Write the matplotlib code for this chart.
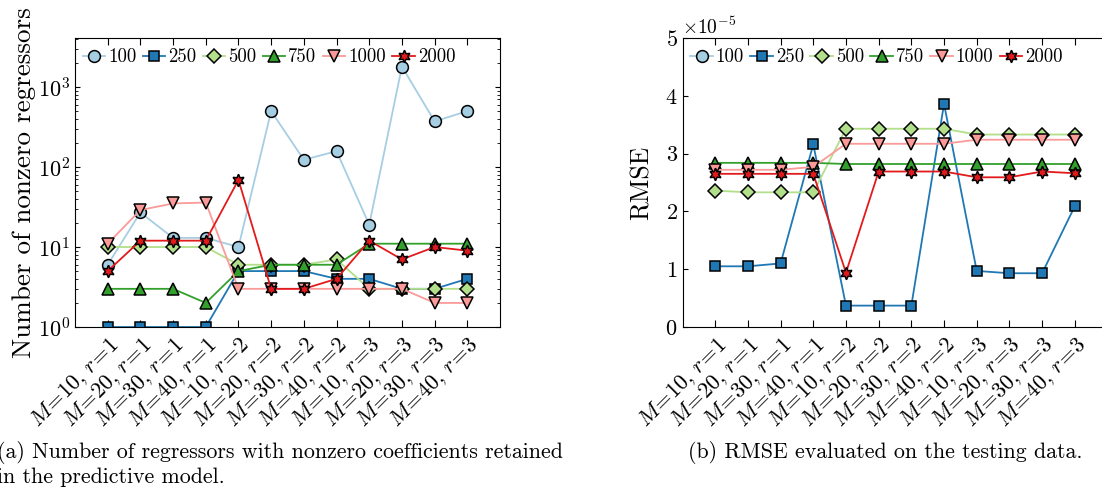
import matplotlib
matplotlib.use("Agg")
import matplotlib.pyplot as plt
import numpy as np
from matplotlib.ticker import ScalarFormatter, LogLocator, NullFormatter

plt.rcParams['font.family'] = ['serif']
plt.rcParams['font.serif'] = ['cmr10']
plt.rcParams['mathtext.fontset'] = 'cm'
plt.rcParams['axes.formatter.use_mathtext'] = True
plt.rcParams['axes.unicode_minus'] = False

# ---------------- data ----------------
x_labels = [r"$M\!=\!10,\, r\!=\!1$", r"$M\!=\!20,\, r\!=\!1$", r"$M\!=\!30,\, r\!=\!1$", r"$M\!=\!40,\, r\!=\!1$",
            r"$M\!=\!10,\, r\!=\!2$", r"$M\!=\!20,\, r\!=\!2$", r"$M\!=\!30,\, r\!=\!2$", r"$M\!=\!40,\, r\!=\!2$",
            r"$M\!=\!10,\, r\!=\!3$", r"$M\!=\!20,\, r\!=\!3$", r"$M\!=\!30,\, r\!=\!3$", r"$M\!=\!40,\, r\!=\!3$"]
series_names = ["100", "250", "500", "750", "1000", "2000"]

# number of nonzero regressors
nz_100 = [6, 27, 13, 13, 10, 500, 123, 158, 19, 1800, 372, 500]
nz_250 = [1, 1, 1, 1, 5, 5, 5, 4, 4, 3, 3, 4]
nz_500 = [10, 10, 10, 10, 6, 6, 6, 7, 3, 3, 3, 3]
nz_750 = [3, 3, 3, 2, 5, 6, 6, 6, 11, 11, 11, 11]
nz_1000 = [11, 29, 35, 36, 3, 3, 3, 3, 3, 3, 2, 2]
nz_2000 = [5, 12, 12, 12, 69, 3, 3, 4, 12, 7, 10, 9]

# RMSE (in units of 1e-5)
rmse_scale = 1e-5
rmse_100 = [np.nan] * 12
rmse_250 = [1.05, 1.05, 1.10, 3.16, 0.37, 0.37, 0.37, 3.86, 0.97, 0.93, 0.93, 2.09]
rmse_500 = [2.36, 2.33, 2.33, 2.33, 3.43, 3.43, 3.43, 3.43, 3.33, 3.33, 3.33, 3.33]
rmse_750 = [2.84, 2.84, 2.84, 2.84, 2.82, 2.82, 2.82, 2.82, 2.82, 2.82, 2.82, 2.82]
rmse_1000 = [2.72, 2.72, 2.72, 2.77, 3.17, 3.17, 3.17, 3.17, 3.24, 3.24, 3.24, 3.24]
rmse_2000 = [2.65, 2.65, 2.65, 2.65, 0.94, 2.69, 2.69, 2.69, 2.59, 2.59, 2.69, 2.66]

colors = ["#a6cee3", "#1f78b4", "#b2df8a", "#33a02c", "#fb9a99", "#e31a1c"]
markers = ["o", "s", "D", "^", "v", (6, 1, 0)]
msizes = [8.5, 7, 7, 8.5, 8.5, 9]

nz_all = [nz_100, nz_250, nz_500, nz_750, nz_1000, nz_2000]
rmse_all = [rmse_100, rmse_250, rmse_500, rmse_750, rmse_1000, rmse_2000]

fig = plt.figure(figsize=(11.02, 4.87), dpi=100)
W, H = 1102, 487
ax1 = fig.add_axes([75 / W, 1 - 327 / H, (500 - 75) / W, (327 - 38) / H])
ax2 = fig.add_axes([682.5 / W, 1 - 327 / H, (1107.5 - 682.5) / W, (327 - 38) / H])

xs = np.arange(len(x_labels))

def draw(ax, data, scale=1.0):
    for vals, c, m, ms, name in zip(data, colors, markers, msizes, series_names):
        ax.plot(xs, np.array(vals, dtype=float) * scale, color=c, marker=m, markersize=ms,
                markeredgecolor="black", markeredgewidth=1.1, linewidth=1.3, label=name)
    ax.set_xlim(-1, 12)
    ax.set_xticks(xs)
    ax.set_xticklabels(x_labels, rotation=45, ha="right", rotation_mode="anchor", fontsize=12.5)
    ax.tick_params(which="both", direction="in", top=True, right=True, labelsize=16)
    ax.tick_params(axis="x", which="major", length=5, pad=5)
    ax.legend(loc="upper left", bbox_to_anchor=(-0.006, 1.0), ncol=6, frameon=False,
              fontsize=13.5, handlelength=1.2, handletextpad=0.15, columnspacing=0.35,
              borderaxespad=0.25, borderpad=0.3)

draw(ax1, nz_all)
ax1.set_yscale("log")
ax1.set_ylim(1, 4100)
ax1.yaxis.set_major_locator(LogLocator(base=10, numticks=10))
ax1.yaxis.set_minor_locator(LogLocator(base=10, subs=np.arange(2, 10), numticks=20))
ax1.yaxis.set_minor_formatter(NullFormatter())
ax1.set_ylabel("Number of nonzero regressors", fontsize=19.5, labelpad=1)

draw(ax2, rmse_all, rmse_scale)
ax2.set_ylim(0, 5e-5)
ax2.set_yticks(np.arange(0, 6) * 1e-5)
fmt = ScalarFormatter(useMathText=True)
fmt.set_powerlimits((0, 0))
ax2.yaxis.set_major_formatter(fmt)
ax2.yaxis.get_offset_text().set_fontsize(14)
ax2.set_ylabel("RMSE", fontsize=18.5, labelpad=8)

fig.text(-0.003, 1 - 452 / H, "(a) Number of regressors with nonzero coefficients retained",
         fontsize=15.8, ha="left", va="center")
fig.text(-0.003, 1 - 477 / H, "in the predictive model.", fontsize=15.8, ha="left", va="center")
fig.text(885 / W, 1 - 452 / H, "(b) RMSE evaluated on the testing data.", fontsize=15.8,
         ha="center", va="center")

fig.savefig("out.png", dpi=100)
